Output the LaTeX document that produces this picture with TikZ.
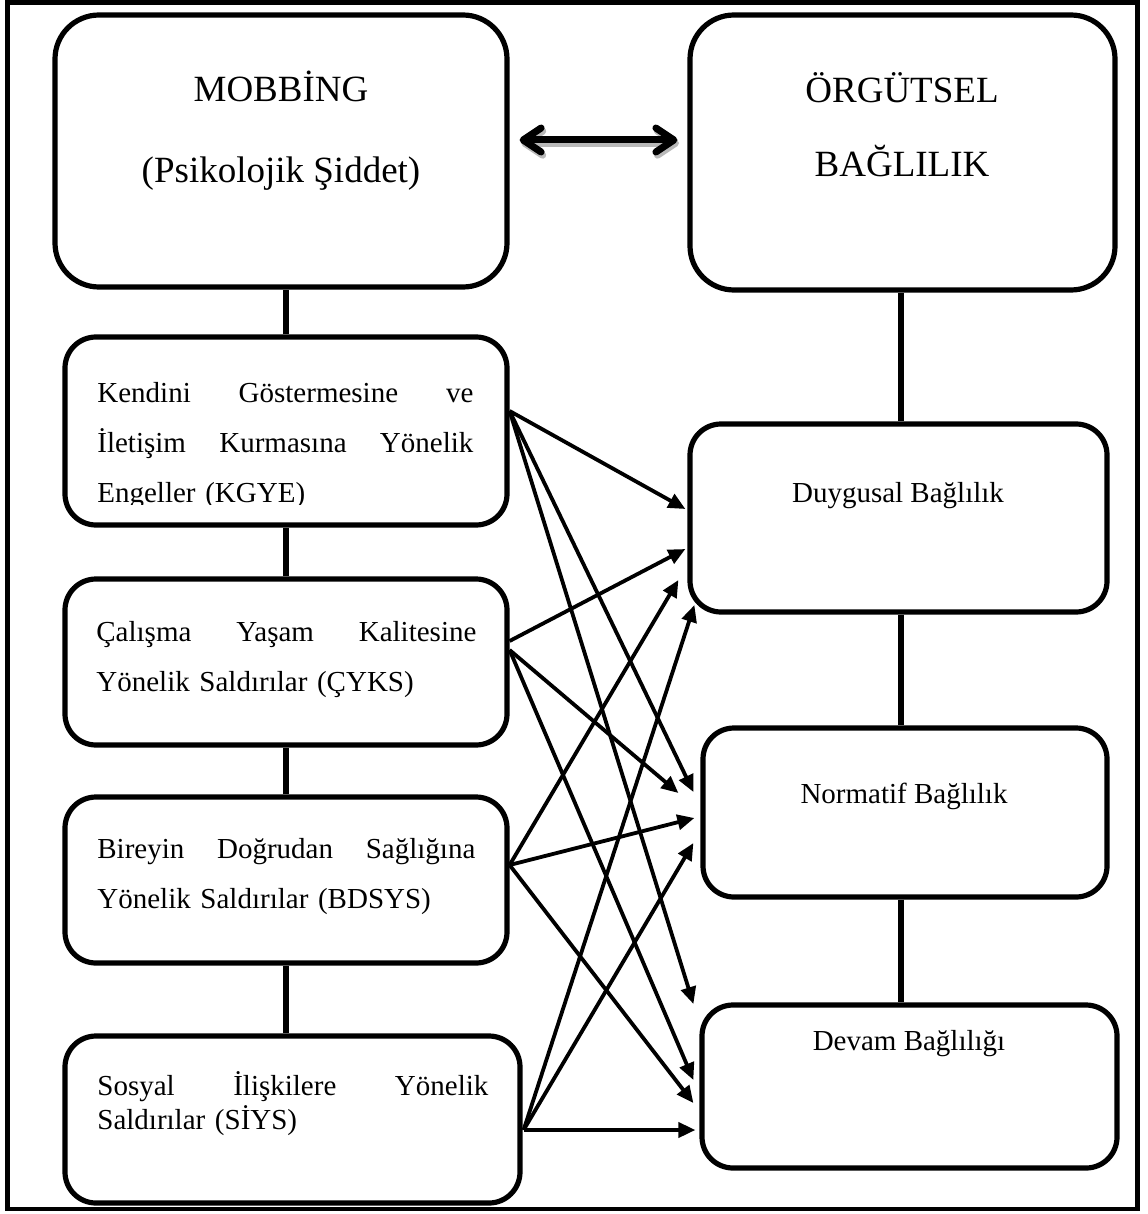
\documentclass[tikz,border=0pt]{standalone}
\usepackage{fontspec}
\setmainfont{Liberation Serif}
\usetikzlibrary{arrows.meta,fit,calc}

\begin{document}
\begin{tikzpicture}[x=0.5pt,y=-0.5pt,
  box/.style={draw, line width=2.6pt, rounded corners=15.5pt, inner sep=0pt},
  bigbox/.style={box, rounded corners=22pt},
  link/.style={line width=2.6pt},
  arr/.style={line width=1.9pt, -{Triangle[length=8.5pt,width=7.5pt]}},
  dbl/.style={line width=3.5pt, line cap=round,
    {Straight Barb[length=9pt,width=12pt,round]}-{Straight Barb[length=9pt,width=12pt,round]},
    shorten <=5pt, shorten >=5pt},
  ltxt/.style={anchor=base west, inner sep=0pt, align=left,
    font=\fontsize{14.5}{25}\selectfont},
  rtxt/.style={anchor=base, inner sep=0pt, font=\fontsize{14.5}{18}\selectfont},
  htxt/.style={anchor=base, inner sep=0pt, font=\fontsize{18.5}{22}\selectfont},
]
\useasboundingbox (0,0) rectangle (1147,1214);

% outer frame
\draw[line width=2.3pt] (7.5,2.5) rectangle (1137.5,1209);

% head boxes
\node[bigbox, fit={(55,15) (507,287)}] (mob) {};
\node[bigbox, fit={(690,15) (1115,290)}] (org) {};
\node[htxt] (mobA) at (281,102) {MOBBİNG};
\node[htxt] (mobB) at (281,183) {(Psikolojik Şiddet)};
\node[htxt] (orgA) at (902,103) {ÖRGÜTSEL};
\node[htxt] (orgB) at (902,177) {BAĞLILIK};

% two-way relation between the head boxes
\draw[dbl, gray!55, transform canvas={shift={(0.8pt,-1.6pt)}}]
  (mob.east |- 0,140) -- (org.west |- 0,140);
\draw[dbl] (mob.east |- 0,140) -- (org.west |- 0,140);

% mobbing dimensions
\node[box, fit={(65,337) (507,525)}] (kgye) {};
\node[box, fit={(65,579) (507,745)}] (cyks) {};
\node[box, fit={(65,797) (507,963)}] (bdsys) {};
\node[box, fit={(65,1036) (520,1203)}] (siys) {};

% the last line of this text is cut at the foot of its text frame
\begin{scope}
  \clip (0,0) rectangle (1147,504);
  \node[ltxt, text width=188pt] (kgyeT) at (97,402)
    {Kendini\hfill Göstermesine\hfill ve\\
     İletişim\hfill Kurmasına\hfill Yönelik\\
     Engeller (KGYE)};
\end{scope}
\node[ltxt, text width=190pt] (cyksT) at (96,641)
  {Çalışma\hfill Yaşam\hfill Kalitesine\\
   Yönelik Saldırılar (ÇYKS)};
\node[ltxt, text width=189pt] (bdsysT) at (97,858)
  {Bireyin\hfill Doğrudan\hfill Sağlığına\\
   Yönelik Saldırılar (BDSYS)};
\node[ltxt, text width=195.5pt, font=\fontsize{14.5}{17}\selectfont] (siysT) at (97,1095)
  {Sosyal\hfill İlişkilere\hfill Yönelik\\
   Saldırılar (SİYS)};

% commitment dimensions
\node[box, fit={(690,424) (1107,612)}] (duy) {};
\node[box, fit={(703,728) (1107,897)}] (nor) {};
\node[box, fit={(702,1005) (1117,1168)}] (dev) {};
\node[rtxt] (duyT) at (898,502) {Duygusal Bağlılık};
\node[rtxt] (norT) at (904,803) {Normatif Bağlılık};
\node[rtxt] (devT) at (909,1050) {Devam Bağlılığı};

% vertical links
\draw[link] (kgye.north) -- (kgye.north |- mob.south);
\draw[link] (cyks.north) -- (cyks.north |- kgye.south);
\draw[link] (bdsys.north) -- (bdsys.north |- cyks.south);
\draw[link] (bdsys.south) -- (bdsys.south |- siys.north);
\draw[link] (org.south -| 901,0) -- (duy.north -| 901,0);
\draw[link] (duy.south -| 901,0) -- (nor.north -| 901,0);
\draw[link] (nor.south -| 901,0) -- (dev.north -| 901,0);

% effects of each mobbing dimension on each commitment dimension
\draw[arr] (kgye.east |- 0,411) -- ($(duy.west |- 0,509)+(-2,0)$);
\draw[arr] (kgye.east |- 0,411) -- ($(nor.west |- 0,792)+(-7,0)$);
\draw[arr] (kgye.east |- 0,411) -- ($(dev.west |- 0,1004)+(-6,0)$);

\draw[arr] (cyks.east |- 0,641) -- ($(duy.west |- 0,549)+(-2,0)$);
\draw[arr] (cyks.east |- 0,650) -- ($(nor.west |- 0,793)+(-22,0)$);
\draw[arr] (cyks.east |- 0,650) -- ($(dev.west |- 0,1080)+(-6,0)$);

\draw[arr] (bdsys.east |- 0,865) -- ($(duy.west |- 0,580)+(-9,0)$);
\draw[arr] (bdsys.east |- 0,865) -- ($(nor.west |- 0,818)+(-6,0)$);
\draw[arr] (bdsys.east |- 0,865) -- ($(dev.west |- 0,1103)+(-6,0)$);

\draw[arr] ($(siys.east |- 0,1130)+(1,0)$) -- ($(duy.west |- 0,605)+(7,0)$);
\draw[arr] ($(siys.east |- 0,1130)+(1,0)$) -- ($(nor.west |- 0,843)+(-7,0)$);
\draw[arr] ($(siys.east |- 0,1130)+(1,0)$) -- ($(dev.west |- 0,1130)+(-4,0)$);
\end{tikzpicture}
\end{document}
